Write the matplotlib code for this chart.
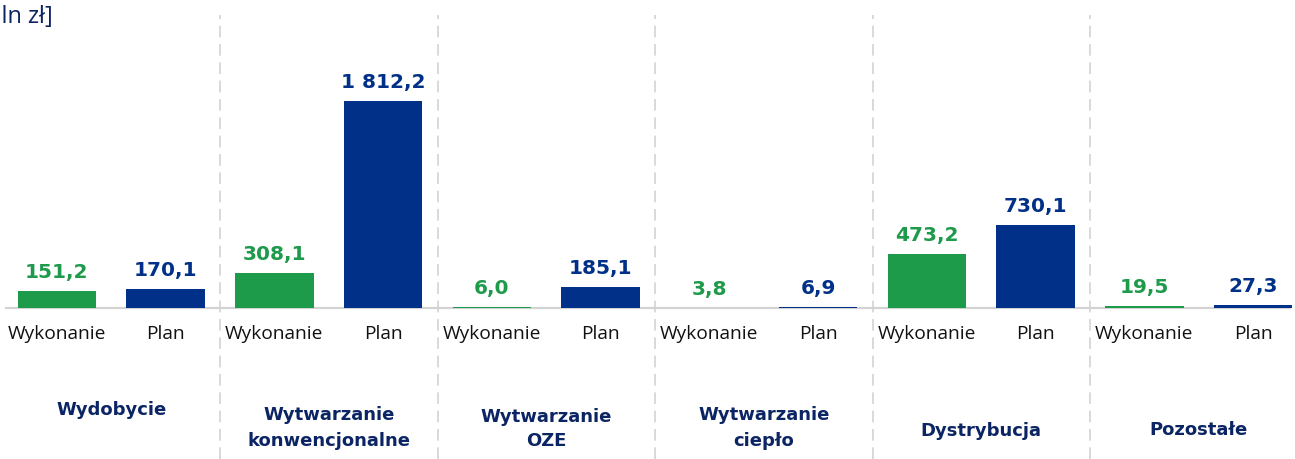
import numpy as np
import matplotlib
matplotlib.use("Agg")
import matplotlib.pyplot as plt
import matplotlib.transforms as mtransforms

# data
categories = ["Wydobycie", "Wytwarzanie\nkonwencjonalne", "Wytwarzanie\nOZE",
              "Wytwarzanie\nciepło", "Dystrybucja", "Pozostałe"]
wykonanie = [151.2, 308.1, 6.0, 3.8, 473.2, 19.5]
plan = [170.1, 1812.2, 185.1, 6.9, 730.1, 27.3]
bar_names = ["Wykonanie", "Plan"]
unit_label = "[mln zł]"

green = "#1e9a4b"
blue = "#003087"
navy = "#0b2464"
grid_col = "#d3d3d3"

def fmt(v):
    s = "{:,.1f}".format(v)
    return s.replace(",", " ").replace(".", ",")

W, H = 1295, 459
fig = plt.figure(figsize=(W / 100, H / 100), dpi=100)
ax = fig.add_axes([0, 0, 1, 1])

# pixel layout -> data limits (baseline at 308 px from top, 1812.2 reaching 101 px)
px_per_unit = (308 - 101) / 1812.2
ax.set_ylim(-(H - 308) / px_per_unit, 308 / px_per_unit)
ax.set_xlim(-0.023, 11.885)
ax.axis("off")

n = len(categories)
x_w = np.arange(n) * 2 + 0.5
x_p = np.arange(n) * 2 + 1.5
bw = 0.72

ax.bar(x_w, wykonanie, width=bw, color=green, zorder=3)
ax.bar(x_p, plan, width=bw, color=blue, zorder=3)

# baseline
ax.axhline(0, xmin=0.005, xmax=0.996, color=grid_col, lw=1.6, zorder=2)

# dashed group separators
sep_tr = mtransforms.blended_transform_factory(ax.transData, ax.transAxes)
for i in range(1, n):
    ax.plot([2 * i, 2 * i], [0, 1 - 15 / H], transform=sep_tr, color=grid_col,
            lw=1.2, ls=(0, (7, 4)), zorder=1)

# value labels
for xs, vals, col in [(x_w, wykonanie, green), (x_p, plan, blue)]:
    for x, v in zip(xs, vals):
        ax.annotate(fmt(v), (x, v), xytext=(0, 6.5), textcoords="offset points",
                    ha="center", va="bottom", fontsize=14.5, fontweight="heavy",
                    color=col, family="DejaVu Sans")

# bar names under the baseline
for xs, name in [(x_w, bar_names[0]), (x_p, bar_names[1])]:
    for x in xs:
        ax.text(x, 1 - 334 / H, name, transform=sep_tr, ha="center", va="center",
                fontsize=13.8, color="#111111", family="Open Sans")

# category labels
cat_y = [410, 428, 429, 428, 431, 430]
for i, (c, yy) in enumerate(zip(categories, cat_y)):
    ax.text(2 * i + 1, 1 - yy / H, c, transform=sep_tr, ha="center", va="center",
            fontsize=13, fontweight="bold", color=navy, family="DejaVu Sans",
            linespacing=1.5)

fig.text(53 / W, 1 - 17 / H, unit_label, ha="right", va="center", fontsize=17,
         color=navy, family="Open Sans")

fig.savefig("out.png", dpi=100)
